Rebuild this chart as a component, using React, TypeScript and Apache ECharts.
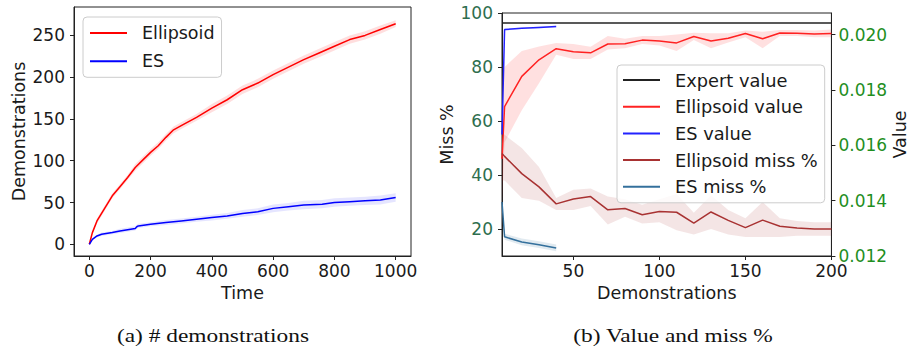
import React, { useEffect, useRef } from "react";
import * as echarts from "echarts";

// ---------- (a) # demonstrations ----------
const ellipsoidTime = [0, 10, 25, 50, 75, 100, 125, 150, 175, 200, 225, 250, 275, 300, 350, 400, 450, 500, 550, 600, 650, 700, 750, 800, 850, 900, 950, 1000];
const ellipsoidDemos = [0, 14, 28, 43, 58, 69, 80, 92, 101, 110, 118, 128, 137, 142, 152, 163, 173, 185, 193, 203, 212, 221, 229, 237, 245, 250, 257, 264];
const ellipsoidDemosLo = [0, 12, 25, 40, 55, 66, 77, 88, 97, 106, 114, 124, 133, 138, 148, 158, 168, 180, 188, 198, 207, 216, 224, 232, 240, 245, 252, 260];
const ellipsoidDemosHi = [0, 16, 31, 46, 61, 72, 83, 96, 105, 114, 122, 132, 141, 146, 156, 168, 178, 190, 198, 208, 217, 226, 234, 242, 250, 255, 262, 268];

const esTime = [0, 10, 25, 40, 75, 100, 150, 155, 160, 200, 250, 300, 350, 400, 450, 500, 550, 600, 650, 700, 760, 800, 850, 900, 950, 1000];
const esDemos = [0, 6, 10, 12, 14, 16, 19, 21, 22, 24, 26, 28, 30, 32, 34, 37, 39, 43, 45, 47, 48, 50, 51, 52, 53, 56];
const esDemosLo = [0, 5, 8.5, 10, 12, 13.5, 16.5, 18.5, 19.5, 21.5, 23, 25, 27, 28.5, 30.5, 33, 35, 38.5, 40.5, 42, 43, 45, 46, 47, 47.5, 51];
const esDemosHi = [0, 7, 11.5, 14, 16, 18.5, 21.5, 23.5, 24.5, 26.5, 29, 31, 33, 35.5, 37.5, 41, 43, 47.5, 49.5, 52, 53, 55, 56, 57, 58.5, 61];

const timeTicks = [0, 200, 400, 600, 800, 1000];
const demoCountTicks = [0, 50, 100, 150, 200, 250];

// ---------- (b) Value and miss % ----------
const demoSteps = [8.5, 10, 20, 30, 40, 50, 60, 70, 80, 90, 100, 110, 120, 130, 140, 150, 160, 170, 180, 190, 200];
const ellipsoidValue = [0.01551, 0.0174, 0.01849, 0.01909, 0.01949, 0.01938, 0.01934, 0.01966, 0.01967, 0.0198, 0.01977, 0.0197, 0.01993, 0.01977, 0.01987, 0.02004, 0.01985, 0.02006, 0.02005, 0.02002, 0.02004];
const ellipsoidValueLo = [0.01395, 0.0161, 0.01727, 0.01824, 0.01927, 0.01912, 0.01912, 0.01946, 0.01951, 0.01966, 0.01961, 0.01941, 0.0198, 0.01951, 0.01971, 0.0199, 0.01951, 0.01995, 0.01995, 0.0199, 0.0199];
const ellipsoidValueHi = [0.01834, 0.01883, 0.01941, 0.01957, 0.0197, 0.01966, 0.01956, 0.01995, 0.01985, 0.01995, 0.01995, 0.02, 0.02007, 0.02005, 0.02005, 0.02015, 0.0201, 0.02017, 0.02017, 0.02015, 0.02018];
const ellipsoidMiss = [48, 46.9, 40.5, 35.6, 29.3, 31.1, 32, 27.1, 27.6, 25.3, 26.5, 26.2, 22.2, 26.3, 23.2, 20.5, 23.3, 21, 20.4, 20, 20];
const ellipsoidMissLo = [38, 38, 31.5, 30.5, 27, 27, 28.5, 21.7, 24.5, 22, 22.5, 19.5, 18, 20, 18, 17, 17, 17, 17.5, 17.5, 17.5];
const ellipsoidMissHi = [56, 54.9, 50, 43, 31.5, 34.5, 35, 32, 31, 29, 31, 33, 26, 32.5, 27, 24, 30, 24, 23, 22.5, 22.5];

const esSteps = [8.5, 10, 20, 30, 40];
const esValue = [0.01639, 0.02018, 0.02023, 0.02026, 0.02029];
const esValueLo = [0.0163, 0.02015, 0.0202, 0.02023, 0.02026];
const esValueHi = [0.01648, 0.02021, 0.02026, 0.02029, 0.02032];
const esMiss = [30, 17.1, 15.2, 14.2, 13.0];
const esMissLo = [28, 16, 14, 13, 11.8];
const esMissHi = [32, 18.2, 16.5, 15.5, 14.3];

const expertSteps = [8.5, 200];
const expertValue = [0.02042, 0.02042];

const stepTicks = [50, 100, 150, 200];
const missTicks = [20, 40, 60, 80, 100];
const valueTicks = [0.012, 0.014, 0.016, 0.018, 0.02];

const FONT = "DejaVu Sans";
const INK = "#1a1a1a";

function pairs(xs: number[], ys: number[]) {
  return xs.map((x, i) => [x, ys[i]]);
}

function band(xs: number[], lo: number[], hi: number[], color: string, xi: number, yi: number) {
  return {
    type: "custom",
    xAxisIndex: xi,
    yAxisIndex: yi,
    silent: true,
    z: 1,
    data: xs.map((x, i) => [x, lo[i], hi[i]]),
    encode: { x: 0, y: [1, 2] },
    renderItem: (params: any, api: any) => {
      if (params.dataIndex !== 0) return null;
      const pts: number[][] = [];
      for (let i = 0; i < xs.length; i++) pts.push(api.coord([xs[i], hi[i]]));
      for (let i = xs.length - 1; i >= 0; i--) pts.push(api.coord([xs[i], lo[i]]));
      return { type: "polygon", shape: { points: pts }, style: { fill: color } };
    },
  };
}

function line(name: string, xs: number[], ys: number[], color: string, xi: number, yi: number) {
  return {
    type: "line",
    name,
    xAxisIndex: xi,
    yAxisIndex: yi,
    data: pairs(xs, ys),
    color,
    showSymbol: false,
    symbol: "none",
    z: 3,
    clip: true,
    lineStyle: { color, width: 1.5 },
  };
}

const axisLineStyle = { show: true, onZero: false, lineStyle: { color: "#222", width: 1 } };
const plain = (v: number) => String(v);

function xAxis(gridIndex: number, min: number, max: number, ticks: number[], name: string) {
  return {
    type: "value",
    gridIndex,
    min,
    max,
    name,
    nameLocation: "middle",
    nameGap: 27,
    nameTextStyle: { fontSize: 17.5, color: INK, fontFamily: FONT },
    axisLine: axisLineStyle,
    axisTick: { show: true, length: 4, customValues: ticks, lineStyle: { color: "#222" } },
    axisLabel: { customValues: ticks, fontSize: 17, color: INK, margin: 6, fontFamily: FONT, formatter: plain },
    splitLine: { show: false },
  };
}

export default function App() {
  const ref = useRef<HTMLDivElement>(null);
  useEffect(() => {
    if (!ref.current) return;
    const chart = echarts.init(ref.current, null, { renderer: "svg" });
    const option: any = {
      animation: false,
      textStyle: { fontFamily: FONT },
      grid: [
        { left: 74, top: 7, width: 337, height: 249, show: true, borderColor: "#222", borderWidth: 1 },
        { left: 502, top: 13, width: 331, height: 243, show: true, borderColor: "#222", borderWidth: 1 },
      ],
      xAxis: [
        xAxis(0, -50, 1050, timeTicks, "Time"),
        xAxis(1, 8.5, 200, stepTicks, "Demonstrations"),
      ],
      yAxis: [
        {
          type: "value",
          gridIndex: 0,
          min: -14,
          max: 284,
          name: "Demonstrations",
          nameLocation: "middle",
          nameGap: 46,
          nameTextStyle: { fontSize: 17.5, color: INK, fontFamily: FONT },
          axisLine: axisLineStyle,
          axisTick: { show: true, length: 4, customValues: demoCountTicks, lineStyle: { color: "#222" } },
          axisLabel: { customValues: demoCountTicks, fontSize: 17, color: INK, margin: 9, fontFamily: FONT, formatter: plain },
          splitLine: { show: false },
        },
        {
          type: "value",
          gridIndex: 1,
          position: "left",
          min: 10,
          max: 100,
          name: "Miss %",
          nameLocation: "middle",
          nameGap: 46,
          nameTextStyle: { fontSize: 17.5, color: INK, fontFamily: FONT },
          axisLine: axisLineStyle,
          axisTick: { show: true, length: 4, customValues: missTicks, lineStyle: { color: "#222" } },
          axisLabel: { customValues: missTicks, fontSize: 17, color: "#2e6e4e", margin: 9, fontFamily: FONT, formatter: plain },
          splitLine: { show: false },
        },
        {
          type: "value",
          gridIndex: 1,
          position: "right",
          min: 0.012,
          max: 0.02078,
          name: "Value",
          nameLocation: "middle",
          nameRotate: 90,
          nameGap: 57,
          nameTextStyle: { fontSize: 17.5, color: INK, fontFamily: FONT },
          axisLine: axisLineStyle,
          axisTick: { show: true, length: 4, customValues: valueTicks, lineStyle: { color: "#222" } },
          axisLabel: {
            customValues: valueTicks,
            fontSize: 17,
            color: "#1f8f1f",
            margin: 7,
            fontFamily: FONT,
            formatter: (v: number) => v.toFixed(3),
          },
          splitLine: { show: false },
        },
      ],
      legend: [
        {
          orient: "vertical",
          left: 83,
          top: 17,
          data: ["Ellipsoid", "ES"],
          icon: "rect",
          itemWidth: 37,
          itemHeight: 2,
          itemGap: 8.3,
          padding: [6, 7, 6, 7],
          backgroundColor: "rgba(255,255,255,0.8)",
          borderColor: "#cccccc",
          borderWidth: 1,
          borderRadius: 4,
          selectedMode: false,
          textStyle: { fontSize: 17.5, color: INK, lineHeight: 20, padding: [0, 0, 0, 10], fontFamily: FONT },
        },
        {
          orient: "vertical",
          left: 617,
          top: 65,
          data: ["Expert value", "Ellipsoid value", "ES value", "Ellipsoid miss %", "ES miss %"],
          icon: "rect",
          itemWidth: 37,
          itemHeight: 2,
          itemGap: 6.7,
          padding: [5, 7, 6, 6],
          backgroundColor: "rgba(255,255,255,0.8)",
          borderColor: "#cccccc",
          borderWidth: 1,
          borderRadius: 4,
          selectedMode: false,
          textStyle: { fontSize: 17.8, color: INK, lineHeight: 20, padding: [0, 0, 0, 10], fontFamily: FONT },
        },
      ],
      series: [
        band(ellipsoidTime, ellipsoidDemosLo, ellipsoidDemosHi, "rgba(255,0,0,0.13)", 0, 0),
        band(esTime, esDemosLo, esDemosHi, "rgba(0,0,255,0.10)", 0, 0),
        line("Ellipsoid", ellipsoidTime, ellipsoidDemos, "#ff0000", 0, 0),
        line("ES", esTime, esDemos, "#0000ff", 0, 0),

        band(demoSteps, ellipsoidValueLo, ellipsoidValueHi, "rgba(255,0,0,0.12)", 1, 2),
        band(esSteps, esValueLo, esValueHi, "rgba(0,0,255,0.12)", 1, 2),
        band(demoSteps, ellipsoidMissLo, ellipsoidMissHi, "rgba(165,42,42,0.12)", 1, 1),
        band(esSteps, esMissLo, esMissHi, "rgba(52,112,156,0.15)", 1, 1),
        line("Expert value", expertSteps, expertValue, "#222222", 1, 2),
        line("Ellipsoid value", demoSteps, ellipsoidValue, "#ff2222", 1, 2),
        line("ES value", esSteps, esValue, "#2222ff", 1, 2),
        line("Ellipsoid miss %", demoSteps, ellipsoidMiss, "#a83232", 1, 1),
        line("ES miss %", esSteps, esMiss, "#34709c", 1, 1),
      ],
      graphic: [
        {
          type: "text",
          x: 213,
          y: 336,
          scaleX: 1.2,
          style: {
            text: "(a) # demonstrations",
            fontSize: 19.5,
            fontFamily: "Liberation Serif",
            fontWeight: "normal",
            fill: "#111",
            align: "center",
            verticalAlign: "middle",
          },
        },
        {
          type: "text",
          x: 673,
          y: 336,
          scaleX: 1.2,
          style: {
            text: "(b) Value and miss %",
            fontSize: 19.5,
            fontFamily: "Liberation Serif",
            fontWeight: "normal",
            fill: "#111",
            align: "center",
            verticalAlign: "middle",
          },
        },
      ],
    };
    chart.setOption(option);
    return () => chart.dispose();
  }, []);
  return (
    <div
      ref={ref}
      style={{ position: "absolute", left: 0, top: 0, width: 910, height: 349, background: "#fff" }}
    />
  );
}
